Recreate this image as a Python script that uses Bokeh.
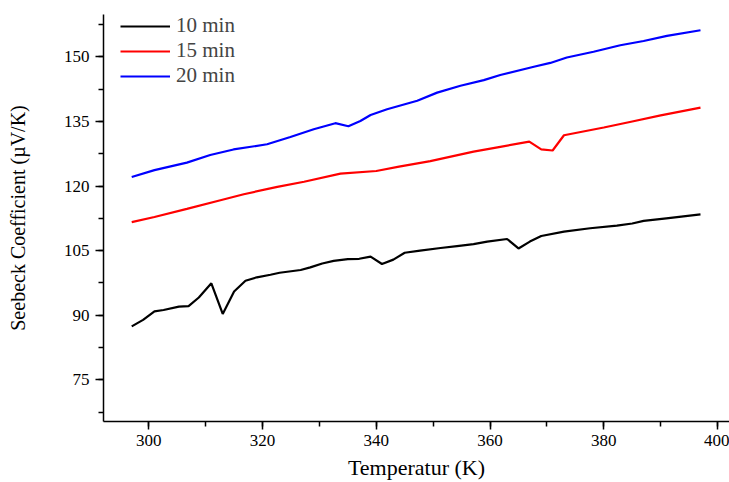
from bokeh.plotting import figure
from bokeh.models import Range1d, SingleIntervalTicker, Legend, LegendItem
from bokeh.embed import file_html
from bokeh.resources import INLINE

# Data
t10 = [297, 299, 301, 302.6, 305.3, 307, 308.8, 311, 313, 315, 317, 319, 321.4, 323,
       326.7, 328.4, 330.5, 332.5, 335, 337, 339, 341, 343, 345, 347.7, 351.3, 354.2,
       357.1, 359.5, 363, 365, 367, 369, 373, 377.6, 382.3, 385, 387, 391, 397]
s10 = [87.4, 88.9, 90.9, 91.2, 92.0, 92.1, 94.1, 97.4, 90.3, 95.5, 98.0, 98.8, 99.4, 99.85,
       100.5, 101.1, 102.0, 102.6, 103.0, 103.1, 103.6, 101.9, 102.9, 104.5, 105.0, 105.6, 106.05,
       106.5, 107.1, 107.7, 105.5, 107.1, 108.4, 109.4, 110.2, 110.8, 111.3, 111.9, 112.5, 113.4]

t15 = [297, 301, 306.7, 312.6, 316.7, 322.6, 327.3, 333.7, 340, 344, 349.5, 357.1, 361.8,
       366.9, 369, 371, 373, 380, 385, 390, 397]
s15 = [111.6, 112.8, 114.7, 116.7, 118.1, 119.8, 121.0, 122.9, 123.5, 124.5, 125.8, 128.0, 129.1,
       130.3, 128.5, 128.25, 131.8, 133.6, 135.0, 136.4, 138.2]

t20 = [297, 301, 306.7, 310.8, 314.9, 320.8, 324.9, 329, 332.8, 335.1, 337.2, 339, 341.9,
       347.2, 350.7, 354.8, 358.9, 361.8, 367.7, 370.6, 373.5, 378.2, 382.9, 387, 391.1, 397]
s20 = [122.1, 123.7, 125.45, 127.2, 128.5, 129.7, 131.4, 133.2, 134.6, 133.9, 135.1, 136.5, 137.85,
       139.8, 141.7, 143.3, 144.6, 145.8, 147.7, 148.6, 149.85, 151.2, 152.7, 153.7, 154.9, 156.2]

labels = ["10 min", "15 min", "20 min"]
colors = ["#000000", "#ff0000", "#0000ff"]

FONT = "Liberation Serif"

p = figure(width=729, height=482, output_backend="svg", toolbar_location=None,
           x_range=Range1d(292.04, 402.1), y_range=Range1d(65.3, 159.85),
           min_border_left=103, min_border_right=0, min_border_top=14, min_border_bottom=60)
p.outline_line_color = None
p.grid.visible = False
p.background_fill_color = "white"

renderers = []
for xs, ys, c in zip([t10, t15, t20], [s10, s15, s20], colors):
    r = p.line(xs, ys, line_color=c, line_width=2.2)
    renderers.append(r)

p.xaxis.ticker = SingleIntervalTicker(interval=20, num_minor_ticks=2)
p.yaxis.ticker = SingleIntervalTicker(interval=15, num_minor_ticks=2)

for ax in [p.xaxis[0], p.yaxis[0]]:
    ax.axis_line_color = "black"
    ax.axis_line_width = 1.5
    ax.major_tick_line_color = "black"
    ax.minor_tick_line_color = "black"
    ax.major_tick_line_width = 1.5
    ax.minor_tick_line_width = 1.5
    ax.major_tick_out = 8
    ax.major_tick_in = 0
    ax.minor_tick_out = 5
    ax.minor_tick_in = 0
    ax.major_label_text_font = FONT
    ax.major_label_text_font_size = "17px"
    ax.major_label_text_color = "black"
    ax.axis_label_text_font = FONT
    ax.axis_label_text_font_style = "normal"
    ax.axis_label_text_color = "black"

p.xaxis.axis_label = "Temperatur (K)"
p.xaxis.axis_label_text_font_size = "22px"
p.xaxis.axis_label_standoff = 6
p.xaxis.major_label_standoff = 5
p.yaxis.axis_label = "Seebeck Coefficient (\u00b5V/K)"
p.yaxis.axis_label_text_font_size = "20px"
p.yaxis.axis_label_standoff = 32
p.yaxis.major_label_standoff = 6

legend = Legend(items=[LegendItem(label=l, renderers=[r]) for l, r in zip(labels, renderers)],
                location=(17, 333), padding=0, spacing=0, margin=0,
                glyph_width=50, glyph_height=24, label_height=24, label_standoff=6,
                label_text_font=FONT, label_text_font_size="21px",
                border_line_color=None, background_fill_alpha=0)
p.add_layout(legend, "center")

open("out.html", "w").write(file_html(p, INLINE))
